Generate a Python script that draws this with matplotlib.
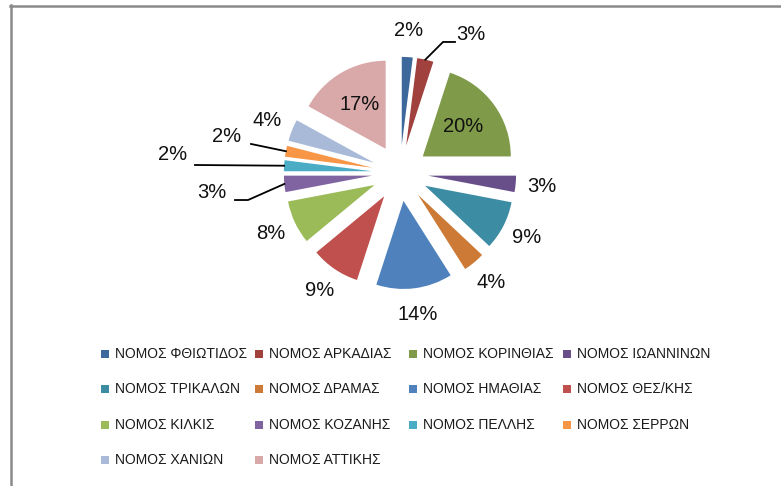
import numpy as np
import matplotlib.pyplot as plt
from matplotlib.lines import Line2D
from matplotlib.patches import Rectangle

# share of each prefecture (percent), clockwise from 12 o'clock
names = ['ΝΟΜΟΣ ΦΘΙΩΤΙΔΟΣ', 'ΝΟΜΟΣ ΑΡΚΑΔΙΑΣ', 'ΝΟΜΟΣ ΚΟΡΙΝΘΙΑΣ', 'ΝΟΜΟΣ ΙΩΑΝΝΙΝΩΝ',
         'ΝΟΜΟΣ ΤΡΙΚΑΛΩΝ', 'ΝΟΜΟΣ ΔΡΑΜΑΣ', 'ΝΟΜΟΣ ΗΜΑΘΙΑΣ', 'ΝΟΜΟΣ ΘΕΣ/ΚΗΣ',
         'ΝΟΜΟΣ ΚΙΛΚΙΣ', 'ΝΟΜΟΣ ΚΟΖΑΝΗΣ', 'ΝΟΜΟΣ ΠΕΛΛΗΣ', 'ΝΟΜΟΣ ΣΕΡΡΩΝ',
         'ΝΟΜΟΣ ΧΑΝΙΩΝ', 'ΝΟΜΟΣ ΑΤΤΙΚΗΣ']
shares = [2, 3, 20, 3, 9, 4, 14, 9, 8, 3, 2, 2, 4, 17]

colors = ['#3C689C', '#A0413E', '#7F9A48', '#694F8A', '#3C8DA3', '#CC7A36', '#4F81BD',
          '#C0504D', '#9BBB59', '#8064A2', '#4BACC6', '#F79646', '#A9BAD9', '#D9A9A9']

W, H = 781, 486
cx, cy, unit = 400, 173, 88.0   # pie centre and radius in pixels
explode = 0.32

fig = plt.figure(figsize=(W / 100, H / 100), dpi=100)
ax = fig.add_axes([0, 0, 1, 1])
wedges, _ = ax.pie(shares, colors=colors, startangle=90, counterclock=False,
                   explode=[explode] * len(shares), radius=1.0,
                   wedgeprops=dict(linewidth=0))
ax.set_xlim(-cx / unit, (W - cx) / unit)
ax.set_ylim(-(H - cy) / unit, cy / unit)
ax.set_aspect('auto')
ax.axis('off')

# label placement: default is outside at 1.62 radius along the mid angle
inside = {2: 0.89, 13: 0.90}
# (text x, text y, leader points) for the labels with leader lines
leaders = {
    1: ((0.80, 1.57), [(0.489, 1.489), (0.625, 1.489)]),
    9: ((-2.14, -0.22), [(-1.727, -0.307), (-1.875, -0.307)]),
    10: ((-2.58, 0.21), [(-2.330, 0.091)]),
    11: ((-1.97, 0.41), [(-1.693, 0.330)]),
}

cum = np.cumsum([0] + shares)
total = float(sum(shares))
for i, v in enumerate(shares):
    mid = 90 - 360 * (cum[i] + v / 2) / total
    d = np.array([np.cos(np.radians(mid)), np.sin(np.radians(mid))])
    if i in leaders:
        (tx, ty), pts = leaders[i]
        edge = (1 + explode) * d
        xs = [edge[0]] + [p[0] for p in pts]
        ys = [edge[1]] + [p[1] for p in pts]
        ax.plot(xs, ys, color='black', lw=1.3, clip_on=False)
    elif i in inside:
        tx, ty = inside[i] * d
    else:
        tx, ty = 1.62 * d
    ax.text(tx, ty, f'{v}%', ha='center', va='center', fontsize=14.5,
            family='Liberation Sans', color='#111111')

# legend drawn as a fixed grid like the spreadsheet
for i, name in enumerate(names):
    row, col = divmod(i, 4)
    x0 = 101 + 154 * col
    yc = 353.5 + 35.5 * row
    fig.add_artist(Rectangle((x0 / W, 1 - (yc + 4) / H), 8 / W, 8 / H,
                             transform=fig.transFigure, color=colors[i], lw=0))
    fig.text((x0 + 14) / W, 1 - yc / H, name, ha='left', va='center',
             fontsize=10, family='Liberation Sans', color='#1a1a1a')

# chart frame (top and left edges visible)
fig.add_artist(Line2D([10 / W, 1], [1 - 6 / H, 1 - 6 / H], transform=fig.transFigure,
                      color='#8A8A8A', lw=1.8))
fig.add_artist(Line2D([11 / W, 11 / W], [0, 1 - 5 / H], transform=fig.transFigure,
                      color='#8A8A8A', lw=1.8))

fig.savefig('out.png', dpi=100, facecolor='white')
